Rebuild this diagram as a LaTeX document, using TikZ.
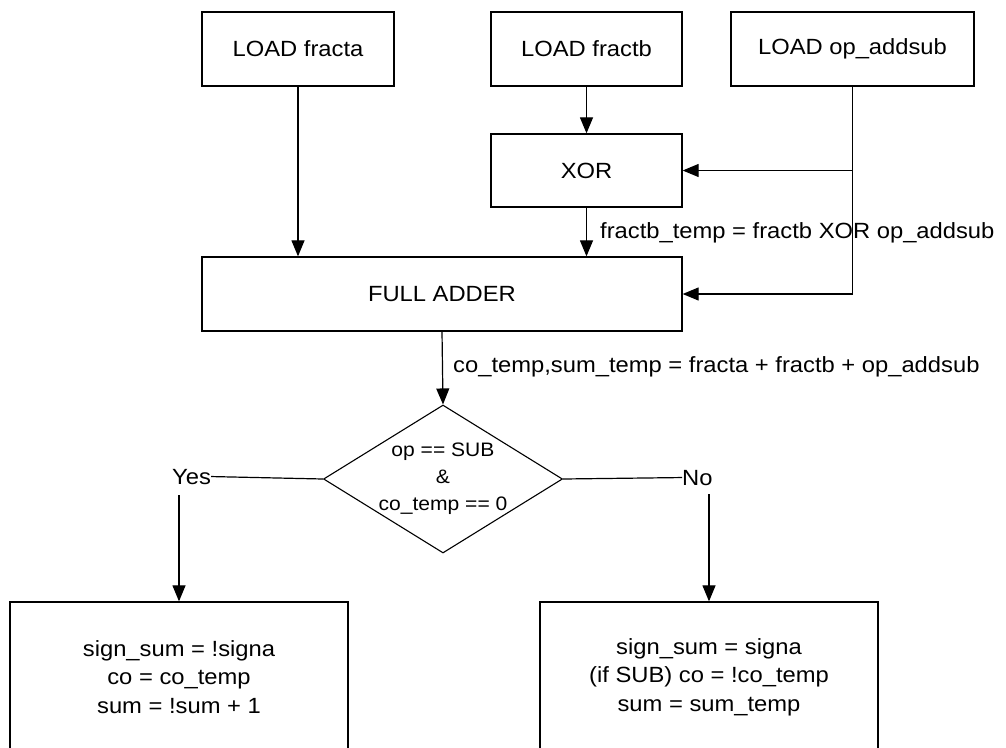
\documentclass[tikz,border=0pt]{standalone}
\usepackage{fontspec}
\setmainfont{Liberation Sans}[FakeStretch=1.08]
\usetikzlibrary{arrows.meta,shapes.geometric}
\newcommand\boxfont{\fontsize{22}{28.5}\selectfont}
\newcommand\diafont{\fontsize{19.5}{27}\selectfont}
\begin{document}
\begin{tikzpicture}[x=1pt,y=-1pt,
  box/.style={draw, line width=1.3pt, inner sep=0pt, font=\boxfont, align=center},
  decision/.style={draw, shape=diamond, line width=1.1pt, inner sep=0pt,
    minimum width=239pt, minimum height=148pt},
  note/.style={inner sep=0pt, font=\boxfont},
  link/.style={line width=1.2pt},
  arr/.style={link, -{Triangle[length=16pt,width=13pt]}}]
\useasboundingbox (0,0) rectangle (1006,747);
\clip (0,0) rectangle (1006,747);

% input registers
\node[box, minimum width=192pt, minimum height=74pt] (fa) at (298,49) {LOAD fracta};
\node[box, minimum width=191pt, minimum height=74pt] (fb) at (586.5,49) {LOAD fractb};
\node[box, minimum width=243pt, minimum height=74pt] (op) at (852.5,49) {LOAD op\_addsub};

% datapath
\node[box, minimum width=191pt, minimum height=73pt] (xor) at (586.5,170.5) {XOR};
\node[box, minimum width=480pt, minimum height=74pt] (add) at (442,294) {FULL ADDER};

% decision
\node[decision] (dec) at (443,479) {};
\node[inner sep=0pt, font=\diafont, align=center] (cond) at (dec.center)
  {op == SUB\\\&\\co\_temp == 0};

% result boxes (run past the lower edge)
\node[box, minimum width=338pt, minimum height=150pt] (lbox) at (179,677)
  {sign\_sum = !signa\\co = co\_temp\\sum = !sum + 1};
\node[box, minimum width=338pt, minimum height=150pt] (rbox) at (709,677)
  {sign\_sum = signa\\(if SUB) co = !co\_temp\\sum = sum\_temp};

% connectors
\draw[arr] (fa.south) -- (fa.south |- add.north);
\draw[arr] (fb.south) -- (xor.north);
\draw[arr] (xor.south) -- (xor.south |- add.north);
\draw[arr] (op.south) |- (add.east);
\coordinate (tap) at (op.south |- xor.east);
\draw[arr] (tap) -- (xor.east);
\draw[arr] (add.south) -- (dec.north);

\node[note, anchor=base west] (l1) at (600,238) {fractb\_temp = fractb XOR op\_addsub};
\node[note, anchor=base west] (l2) at (453,372) {co\_temp,sum\_temp = fracta + fractb + op\_addsub};

% branches
\node[note, anchor=base west] (yes) at (172,484) {Yes};
\node[note, anchor=base west] (no) at (682,485) {No};
\draw[link] (dec.west) -- (yes.east);
\draw[link] (dec.east) -- (no.west);
\coordinate (ys) at ([yshift=-11pt]yes.south -| lbox.north);
\coordinate (ns) at ([yshift=-9pt]no.south -| rbox.north);
\draw[arr] (ys) -- (lbox.north);
\draw[arr] (ns) -- (rbox.north);
\end{tikzpicture}
\end{document}
